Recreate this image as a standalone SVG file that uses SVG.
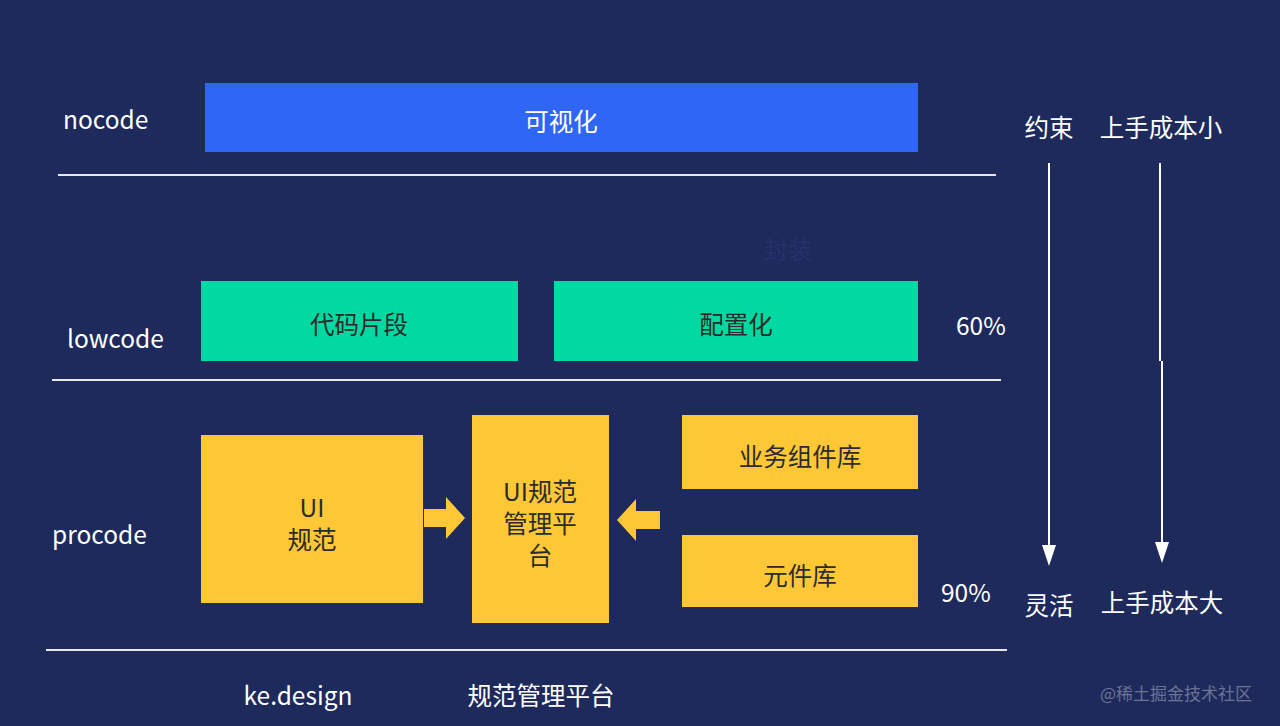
<svg xmlns="http://www.w3.org/2000/svg" width="1280" height="726" viewBox="0 0 1280 726">
<style>
.t{font-family:"Noto Sans CJK SC","Liberation Sans",sans-serif;font-size:24.5px;}
.w{fill:#ffffff;}
.d{fill:#2b2b2b;}
.c{text-anchor:middle;}
.sep{stroke:#e6e8ee;stroke-width:2;}
.ar{stroke:#ffffff;stroke-width:2;fill:none;}
.yl{fill:#fdc735;}
.gr{fill:#00daa2;}
</style>
<rect width="1280" height="726" fill="#1d2a5b"/>
<g id="labels">
<text class="t w" x="63" y="129">nocode</text>
<text class="t w" x="67" y="348">lowcode</text>
<text class="t w" x="52" y="544">procode</text>
<text class="t w" x="956" y="335">60%</text>
<text class="t w" x="941" y="602">90%</text>
<text class="t w c" x="298" y="705">ke.design</text>
<text class="t w c" x="541" y="705">规范管理平台</text>
<text class="t c" x="788" y="259" fill="#24326a">封装</text>
</g>
<g id="separators">
<line class="sep" x1="58" y1="175" x2="996" y2="175"/>
<line class="sep" x1="52" y1="380" x2="1001" y2="380"/>
<line class="sep" x1="46" y1="650" x2="1007" y2="650"/>
</g>
<g id="node-visual">
<rect x="205" y="83" width="713" height="69" fill="#2f66f6"/>
<text class="t w c" x="561" y="131">可视化</text>
</g>
<g id="node-snippet">
<rect class="gr" x="201" y="281" width="317" height="80"/>
<text class="t d c" x="359" y="334">代码片段</text>
</g>
<g id="node-config">
<rect class="gr" x="554" y="281" width="364" height="80"/>
<text class="t d c" x="736" y="334">配置化</text>
</g>
<g id="node-ui">
<rect class="yl" x="201" y="435" width="222" height="168"/>
<text class="t d c" x="312" y="517">UI</text>
<text class="t d c" x="312" y="549">规范</text>
</g>
<g id="node-platform">
<rect class="yl" x="472" y="415" width="137" height="208"/>
<text class="t d c" x="540" y="501">UI规范</text>
<text class="t d c" x="540" y="533">管理平</text>
<text class="t d c" x="540" y="565">台</text>
</g>
<g id="node-biz">
<rect class="yl" x="682" y="415" width="236" height="74"/>
<text class="t d c" x="800" y="466">业务组件库</text>
</g>
<g id="node-atom">
<rect class="yl" x="682" y="535" width="236" height="72"/>
<text class="t d c" x="800" y="585">元件库</text>
</g>
<g id="connectors">
<polygon class="yl" points="424,509 446,509 446,497 465,518 446,539 446,527 424,527"/>
<polygon class="yl" points="660,511 636,511 636,499 617,520 636,541 636,529 660,529"/>
<line x1="1049" y1="163" x2="1049" y2="546" class="ar"/>
<polygon points="1042,545 1056,545 1049,566" fill="#ffffff"/>
<line x1="1160" y1="163" x2="1160" y2="361" class="ar"/>
<line x1="1162" y1="361" x2="1162" y2="543" class="ar"/>
<polygon points="1155,542 1169,542 1162,563" fill="#ffffff"/>
</g>
<g id="right-labels">
<text class="t w c" x="1049" y="137">约束</text>
<text class="t w c" x="1161" y="137">上手成本小</text>
<text class="t w c" x="1049" y="615">灵活</text>
<text class="t w c" x="1162" y="612">上手成本大</text>
<text x="1176" y="700" text-anchor="middle" font-family="Noto Sans CJK SC,Liberation Sans,sans-serif" font-size="17" fill="#6b7396">@稀土掘金技术社区</text>
</g>
</svg>
